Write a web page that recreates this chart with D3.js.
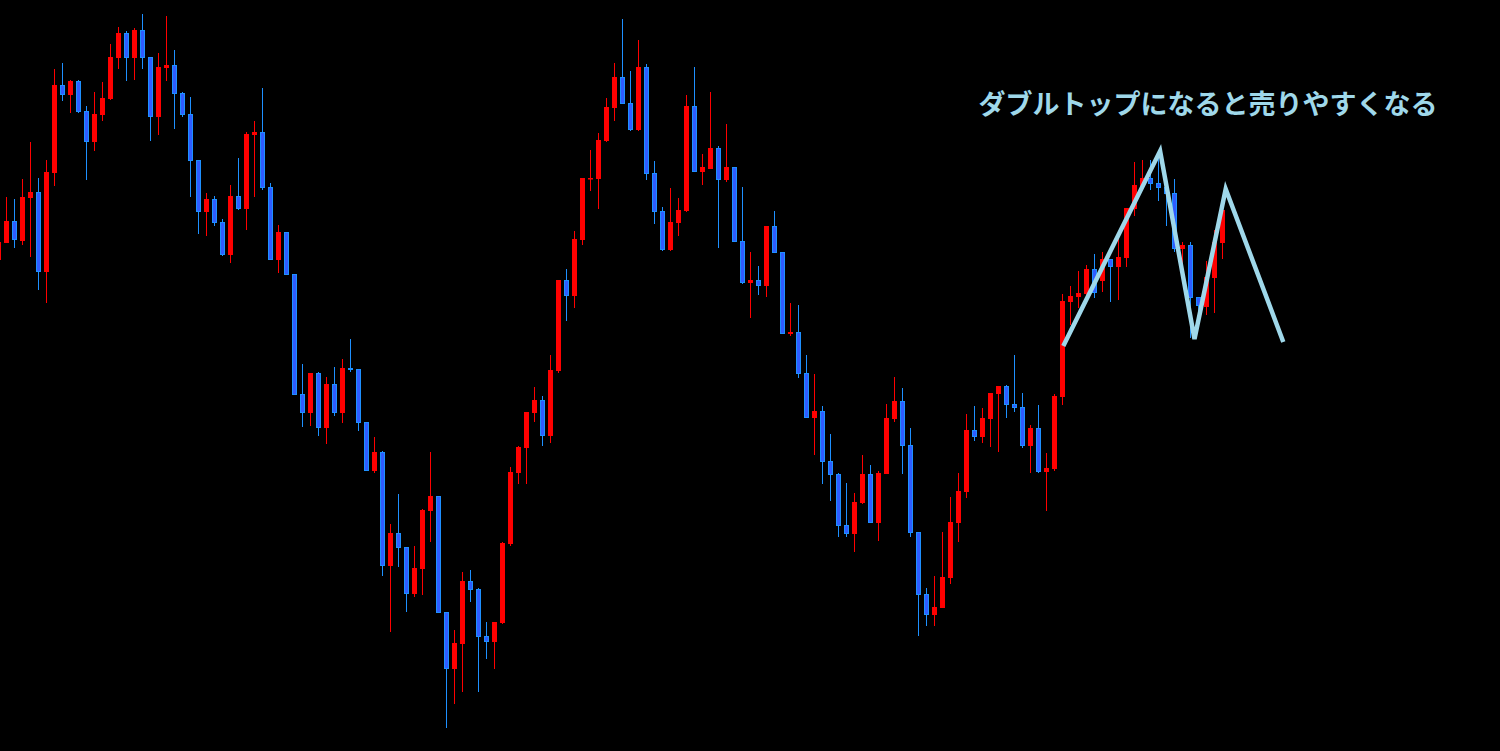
<!DOCTYPE html>
<html><head><meta charset="utf-8">
<script src="https://cdn.jsdelivr.net/npm/d3@7"></script>
<style>html,body{margin:0;padding:0;background:#000;overflow:hidden}</style>
</head><body><svg id="chart" width="1500" height="751"></svg>
<script>
const opens  = [491,508,530,510,553,559,479,578,666,656,670,640,609,636,652,693,718,693,721,694,634,683,686,658,637,591,539,552,529,496,555,542,616,619,564,491,519,477,357,338,378,323,367,338,383,382,329,280,299,185,218,204,157,182,240,255,139,82,107,170,162,115,109,128,207,278,303,338,351,315,380,471,455,511,572,572,610,643,674,648,621,684,578,540,501,528,540,645,579,582,603,571,584,510,468,471,465,525,499,417,419,378,333,340,290,277,226,217,248,277,228,277,332,350,306,219,157,136,143,173,228,259,321,314,332,357,365,347,344,305,323,279,282,354,449,454,457,482,470,492,484,493,542,565,573,568,564,558,502,506,454,444,473,508];
const highs  = [510,554,552,572,609,573,591,682,688,671,671,645,659,669,707,724,720,723,737,694,698,735,701,659,654,591,558,555,532,566,593,619,630,663,568,526,519,477,387,378,379,374,384,392,412,382,329,314,300,227,257,204,205,242,299,255,139,121,179,181,163,129,129,209,284,305,339,364,355,396,471,482,520,573,601,618,653,688,732,680,711,687,590,544,563,553,656,684,597,659,605,627,584,564,499,485,525,540,499,448,446,396,377,345,317,278,268,258,296,286,280,347,374,363,323,219,163,175,219,254,278,337,345,343,358,365,366,396,358,326,346,298,357,457,465,480,486,497,499,492,514,543,589,591,591,601,572,572,509,509,454,490,521,548];
const lows   = [490,508,503,506,494,461,448,565,650,638,638,571,600,630,651,682,670,671,682,610,616,670,622,634,554,517,515,525,495,488,541,521,554,561,491,478,476,356,324,325,315,307,335,328,379,320,280,278,175,119,184,139,154,156,209,138,23,47,59,149,59,92,82,127,205,267,267,329,305,308,378,430,443,506,560,542,609,630,647,620,620,571,527,500,500,515,539,579,566,582,503,569,509,467,433,456,454,498,417,415,373,333,296,267,250,214,214,199,247,228,210,277,329,277,214,115,125,125,143,167,209,253,310,308,304,299,333,339,303,278,278,240,280,346,426,443,453,453,459,449,451,484,535,561,561,550,525,499,471,413,435,436,438,492];
const closes = [509,530,511,554,559,479,579,666,656,670,639,609,637,653,694,718,693,721,693,634,684,686,657,636,590,539,552,528,496,555,542,617,619,563,491,519,476,356,338,378,323,367,338,383,381,328,280,299,185,218,203,157,183,241,255,138,82,108,170,161,114,109,129,208,279,304,339,351,315,381,471,455,512,573,573,611,644,674,647,621,684,577,539,501,529,541,645,579,584,603,571,584,509,468,471,465,525,498,417,419,377,333,340,289,276,225,217,249,277,228,278,333,350,305,218,156,136,144,174,229,260,321,314,333,358,365,346,343,305,323,279,283,355,450,455,458,482,458,492,484,494,543,566,573,567,563,557,502,506,453,445,474,509,541];

// Double-top zigzag (bar index, price)
const zigIndex = [133.1, 145.2, 149.5, 153.4, 160.6];
const zigPrice = [405, 600, 412, 562, 409];
const annotation = "ダブルトップになると売りやすくなる";

const W = 1500, H = 751;
const candles = opens.map((o, i) => ({i, o, h: highs[i], l: lows[i], c: closes[i]}));
const svg = d3.select("#chart");
svg.append("rect").attr("width", W).attr("height", H).attr("fill", "#000");

const x = d3.scaleLinear().domain([0, 1]).range([-1.5, 6.5]);
const y = d3.scaleLinear().domain([0, 751]).range([751, 0]);

const RED = "#ff0000", BLUE_LINE = "#1e90ff", BLUE_FILL = "#2f5cff";
const g = svg.append("g");
const bar = g.selectAll("g.c").data(candles).join("g").attr("class", "c");
bar.append("line")
  .attr("x1", d => x(d.i)).attr("x2", d => x(d.i))
  .attr("y1", d => y(d.h)).attr("y2", d => y(d.l))
  .attr("stroke", d => d.c >= d.o ? RED : BLUE_LINE).attr("stroke-width", 1);
bar.append("rect")
  .attr("x", d => d.c >= d.o ? x(d.i) - 2.5 : x(d.i) - 2)
  .attr("width", d => d.c >= d.o ? 5 : 4)
  .attr("y", d => d.c >= d.o ? y(Math.max(d.o, d.c)) : y(Math.max(d.o, d.c)) + 0.5)
  .attr("height", d => Math.max(d.c >= d.o ? 1.5 : 1, Math.abs(y(d.o) - y(d.c)) - (d.c >= d.o ? 0 : 1)))
  .attr("fill", d => d.c >= d.o ? RED : BLUE_FILL)
  .attr("stroke", d => d.c >= d.o ? "none" : BLUE_LINE)
  .attr("stroke-width", 1);

const zig = zigIndex.map((v, k) => [x(v), y(zigPrice[k])]);
svg.append("path").attr("d", d3.line()(zig))
  .attr("fill", "none").attr("stroke", "#9fd8ea").attr("stroke-width", 4.5)
  .attr("stroke-linejoin", "miter").attr("stroke-linecap", "butt");

svg.append("text").attr("x", 1208).attr("y", 114)
  .attr("text-anchor", "middle")
  .attr("font-family", "'Noto Sans CJK JP', sans-serif")
  .attr("font-weight", "bold").attr("font-size", 27)
  .attr("fill", "#9fd8ea").text(annotation);
</script></body></html>
